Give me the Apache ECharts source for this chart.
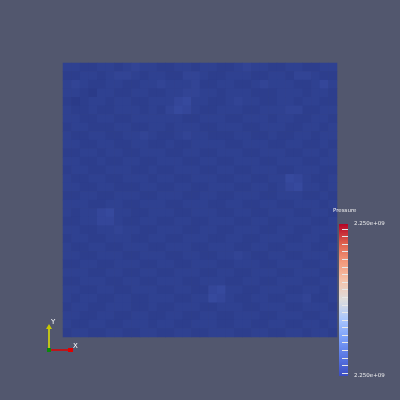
<!DOCTYPE html>
<html><head><meta charset="utf-8">
<script src="https://cdn.jsdelivr.net/npm/echarts@6/dist/echarts.min.js"></script>
<style>html,body{margin:0;padding:0;background:#52576e;}#c{width:400px;height:400px;}</style>
</head><body><div id="c"></div>
<script>
// Cell pressure levels (relative shade index, row 0 = top)
const rows = [
[3,3,2,2,3,3,2,3,4,3,3,2,2,3,3,2,3,3,2,2,3,4,3,3,2,2,3,3,2,2,3,3],
[2,2,3,3,2,3,4,4,3,2,3,3,2,2,4,4,3,2,2,3,3,3,2,2,3,3,2,4,4,3,2,2],
[3,4,3,2,2,3,3,2,2,3,3,4,3,3,3,4,2,2,3,3,2,2,3,4,3,3,3,2,2,3,5,3],
[3,3,2,1,3,3,2,2,3,3,2,2,3,3,4,4,3,3,2,3,3,3,2,2,2,3,3,3,2,3,3,2],
[2,1,2,3,3,2,3,3,2,2,3,3,3,5,6,3,3,2,2,3,4,3,3,2,2,3,3,2,3,3,2,2],
[3,2,2,3,2,2,3,3,3,2,3,2,4,6,5,3,2,2,3,3,3,2,2,3,3,3,4,4,2,2,3,3],
[3,3,2,2,3,3,2,2,3,3,3,3,3,3,2,2,3,3,3,2,2,3,3,3,2,3,3,2,2,3,3,2],
[2,3,3,2,2,2,3,3,2,2,3,3,2,3,3,3,2,2,3,3,3,2,2,3,3,3,2,2,3,3,2,3],
[3,2,2,3,3,2,2,3,3,4,3,2,2,3,4,3,3,2,2,2,3,3,2,2,3,2,2,3,3,2,3,3],
[3,3,2,2,3,3,2,2,3,3,2,2,3,2,2,3,3,3,3,2,2,3,3,3,2,2,3,3,2,2,3,2],
[2,2,3,3,2,3,3,2,2,3,3,3,2,2,3,3,2,2,3,3,3,2,2,3,3,3,2,2,3,3,2,3],
[3,3,2,2,3,2,2,3,3,2,2,3,3,3,2,2,3,3,2,2,3,3,3,2,2,3,3,3,2,2,3,3],
[2,3,3,2,2,3,3,3,2,2,3,2,2,3,3,3,2,2,3,3,2,2,3,3,3,2,2,3,3,3,2,2],
[3,2,2,3,3,2,2,3,3,3,2,3,3,2,2,3,3,3,2,2,3,3,2,2,3,3,6,5,3,2,2,3],
[3,3,2,2,3,3,2,2,2,3,3,2,2,3,3,2,2,3,3,3,2,2,3,3,2,3,5,6,3,3,2,3],
[2,2,3,3,2,2,3,3,3,2,2,3,3,3,2,2,3,3,2,2,3,3,3,2,2,3,3,3,2,2,3,2],
[3,3,3,2,2,3,3,2,2,3,3,3,2,2,3,3,3,2,2,3,3,2,2,3,3,2,2,3,3,3,2,3],
[3,2,3,3,5,6,3,3,2,2,3,3,3,2,2,3,3,3,2,2,3,3,2,2,3,3,3,2,2,3,3,2],
[2,2,3,3,5,5,3,2,2,3,3,2,2,3,3,2,2,3,3,3,2,2,3,3,2,2,3,3,3,2,2,3],
[3,3,2,2,3,3,4,3,3,2,2,3,3,3,2,2,3,3,2,2,3,3,3,2,2,3,3,2,2,3,3,3],
[2,3,3,2,2,3,3,3,2,2,3,3,2,2,3,3,3,2,2,3,3,2,2,3,3,3,2,2,3,3,2,2],
[3,2,2,3,3,2,2,3,3,3,2,2,3,3,3,2,2,3,3,3,2,2,3,3,2,2,3,3,3,2,2,3],
[3,3,2,2,3,3,3,2,2,3,3,3,2,2,3,3,2,2,3,3,4,3,2,2,3,3,2,2,3,3,3,2],
[2,2,3,3,2,2,3,3,3,2,2,3,3,2,2,3,3,3,2,2,3,3,3,2,2,3,3,3,2,2,3,3],
[3,3,3,2,2,3,3,2,2,3,3,2,2,3,3,3,2,2,3,3,2,2,3,3,3,2,2,3,3,3,2,2],
[2,2,3,3,3,2,2,3,3,2,2,3,3,3,2,2,3,3,3,2,2,3,3,2,2,3,3,3,2,2,3,3],
[3,3,2,2,3,3,2,2,3,3,3,2,2,3,3,2,2,5,6,3,3,2,2,3,3,3,2,2,3,3,2,3],
[3,2,3,3,2,2,3,3,2,2,3,3,3,2,2,3,3,6,5,3,2,2,3,3,2,2,3,3,4,2,2,3],
[2,3,3,2,2,3,3,3,2,2,3,2,2,3,3,3,2,2,3,3,3,2,2,3,3,3,2,2,3,3,3,2],
[3,3,2,2,3,3,2,2,3,3,2,2,3,3,2,2,3,3,2,2,3,3,3,2,2,3,3,3,2,2,3,3],
[3,2,2,3,3,2,2,3,3,3,2,3,3,2,2,3,3,3,2,2,3,3,2,2,3,3,2,2,3,3,2,3],
[2,3,3,2,2,3,3,2,2,3,3,2,2,3,3,2,2,3,3,3,2,2,3,3,2,2,3,3,2,3,3,2]
];
const colorbarTickRange = [0,19];
const colorbarLabels = ['2.250e+09','2.250e+09'];
const colorbarTitle = 'Pressure';

const cols = rows[0].map((_, i) => i);
const rowIdx = rows.map((_, i) => i);
const cells = [];
rows.forEach((r, y) => r.forEach((v, x) => cells.push([x, y, v])));

const chart = echarts.init(document.getElementById('c'));
const white = '#ffffff';
chart.setOption({
  backgroundColor: '#52576e',
  animation: false,
  grid: [
    {left: 63, top: 63, width: 274, height: 274},
    {left: 339, top: 224, width: 9, height: 152},
    {left: 339, top: 229, width: 9, height: 144}
  ],
  xAxis: [
    {type: 'category', data: cols, gridIndex: 0, show: false},
    {type: 'category', data: ['c'], gridIndex: 1, show: false},
    {type: 'value', gridIndex: 2, min: 0, max: 1, show: false}
  ],
  yAxis: [
    {type: 'category', data: rowIdx, gridIndex: 0, show: false, inverse: true},
    {type: 'value', gridIndex: 1, min: 0, max: 1, interval: 1, position: 'right',
     axisLine: {show: false}, axisTick: {show: false}, splitLine: {show: false},
     axisLabel: {show: true, color: '#f0f0f0', fontSize: 5.5, fontFamily: 'DejaVu Sans', margin: 6,
       formatter: (v) => colorbarLabels[v]}},
    {type: 'value', gridIndex: 2, min: colorbarTickRange[0], max: colorbarTickRange[1], interval: 1,
     position: 'right', offset: -3, z: 10,
     axisLine: {show: false}, splitLine: {show: false}, axisLabel: {show: false},
     axisTick: {show: true, length: 6, lineStyle: {color: '#e8e8e8', width: 1}}}
  ],
  visualMap: {
    show: false, min: 0, max: 8, seriesIndex: 0, dimension: 2,
    inRange: {color: ['#293885', '#3a4fa5']}
  },
  series: [
    {type: 'heatmap', xAxisIndex: 0, yAxisIndex: 0, data: cells, itemStyle: {borderWidth: 0}},
    {type: 'bar', xAxisIndex: 1, yAxisIndex: 1, data: [1], barWidth: '100%', silent: true,
     itemStyle: {color: new echarts.graphic.LinearGradient(0, 1, 0, 0, [
       {offset: 0, color: '#3b4cc0'},
       {offset: 0.125, color: '#5977e3'},
       {offset: 0.25, color: '#7b9ff9'},
       {offset: 0.375, color: '#aac7fd'},
       {offset: 0.5, color: '#dddddd'},
       {offset: 0.625, color: '#f5c4ad'},
       {offset: 0.75, color: '#f49a7b'},
       {offset: 0.875, color: '#de604d'},
       {offset: 1, color: '#b40426'}
     ])}},
    {type: 'scatter', xAxisIndex: 2, yAxisIndex: 2, data: [], silent: true}
  ],
  graphic: [
    {type: 'text', left: 333, top: 208, z: 100, style: {text: colorbarTitle, fill: '#f0f0f0', fontSize: 5.5, fontFamily: 'DejaVu Sans'}},
    {type: 'line', z: 100, shape: {x1: 49, y1: 350, x2: 49, y2: 328}, style: {stroke: '#e6e600', lineWidth: 1.5}},
    {type: 'polygon', z: 100, shape: {points: [[46, 329], [52, 329], [49, 324]]}, style: {fill: '#c8c800'}},
    {type: 'line', z: 100, shape: {x1: 49, y1: 350, x2: 70, y2: 350}, style: {stroke: '#e00000', lineWidth: 1.5}},
    {type: 'rect', z: 100, shape: {x: 68, y: 348, width: 5, height: 4}, style: {fill: '#e00000'}},
    {type: 'rect', z: 100, shape: {x: 47, y: 348, width: 4, height: 4}, style: {fill: '#0a8a0a'}},
    {type: 'text', z: 100, left: 51, top: 319, style: {text: 'Y', fill: white, fontSize: 7, fontFamily: 'DejaVu Sans'}},
    {type: 'text', z: 100, left: 73, top: 343, style: {text: 'X', fill: white, fontSize: 7, fontFamily: 'DejaVu Sans'}}
  ]
});
</script></body></html>
